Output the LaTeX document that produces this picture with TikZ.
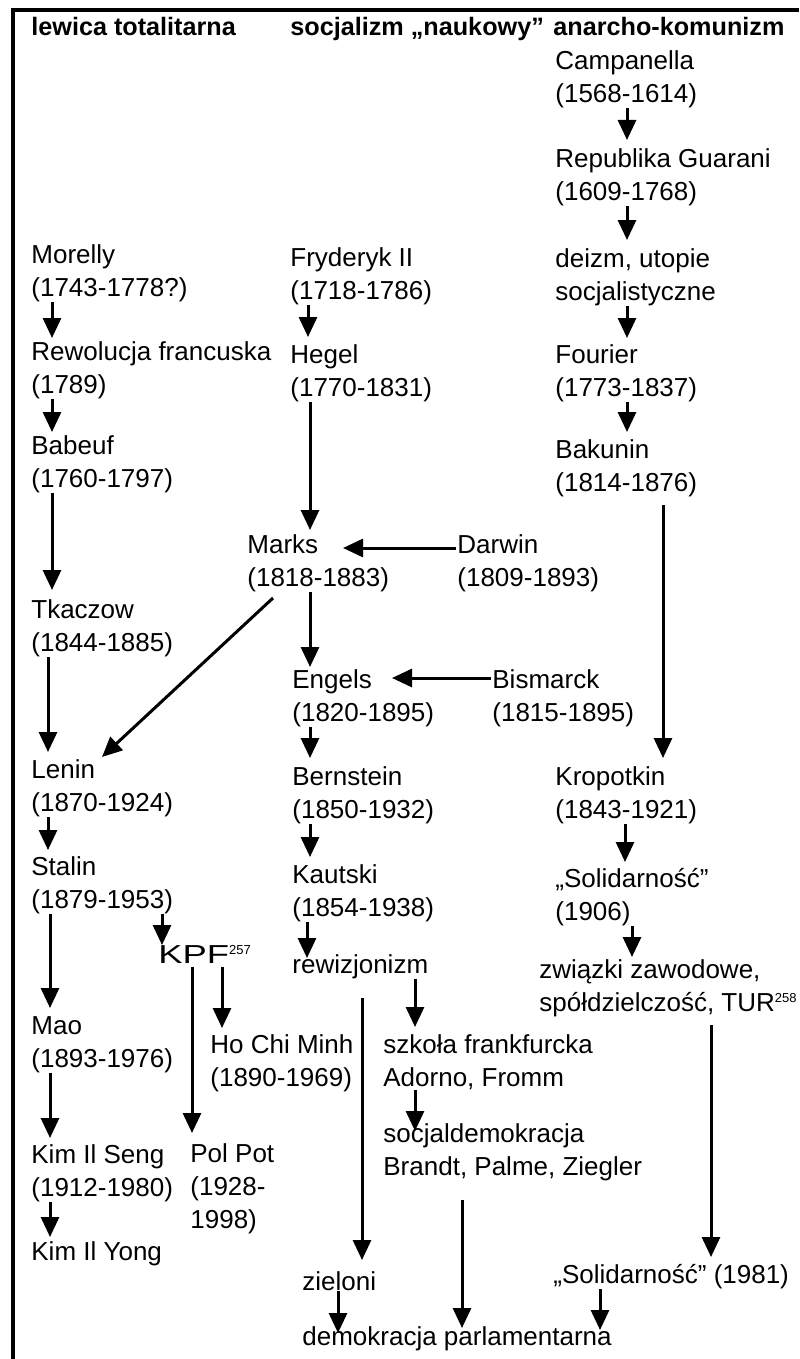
\documentclass[tikz,border=0pt]{standalone}
\usepackage{fontspec}
\setmainfont{Liberation Sans}
\usepackage{graphicx}
\usetikzlibrary{arrows.meta}
\tikzset{
  lbl/.style={anchor=north west, inner sep=0pt, align=left, font=\fontsize{13pt}{16.5pt}\selectfont},
  hdr/.style={lbl, font=\fontsize{12.6pt}{16.5pt}\selectfont\bfseries},
  arr/.style={-{Triangle[width=9pt,length=10pt]}, line width=1.5pt, shorten >=2.5pt},
}
\newcommand{\przypis}[1]{\textsuperscript{\fontsize{6.5pt}{7pt}\selectfont #1}}
\newcommand{\kpf}{\scalebox{1.4}[1]{KPF}\przypis{257}}

\begin{document}
\begin{tikzpicture}[x=0.5pt, y=-0.5pt]
    \useasboundingbox (0,0) rectangle (799,1359);
    \draw[line width=1.75pt] (799,10) -- (13,10) -- (13,1359);

    \node[hdr] (h1) at (31,17) {lewica totalitarna};
    \node[hdr] (h2) at (290,17) {socjalizm „naukowy”};
    \node[hdr] (h3) at (553,17) {anarcho-komunizm};

    % anarcho-komunizm
    \node[lbl] (camp) at (555,50) {Campanella\\(1568-1614)};
    \node[lbl] (rep) at (555,148) {Republika Guarani\\(1609-1768)};
    \node[lbl] (deizm) at (555,248) {deizm, utopie\\socjalistyczne};
    \node[lbl] (fourier) at (555,344) {Fourier\\(1773-1837)};
    \node[lbl] (bakunin) at (555,439) {Bakunin\\(1814-1876)};
    \node[lbl] (kropotkin) at (555,766) {Kropotkin\\(1843-1921)};
    \node[lbl] (sol1906) at (555,868) {„Solidarność”\\(1906)};
    \node[lbl] (zwiazki) at (539,959) {związki zawodowe,\\spółdzielczość, TUR\przypis{258}};
    \node[lbl] (sol1981) at (553,1264) {„Solidarność” (1981)};

    % lewica totalitarna
    \node[lbl] (morelly) at (31,244) {Morelly\\(1743-1778?)};
    \node[lbl] (rewolucja) at (31,341) {Rewolucja francuska\\(1789)};
    \node[lbl] (babeuf) at (31,435) {Babeuf\\(1760-1797)};
    \node[lbl] (tkaczow) at (31,599) {Tkaczow\\(1844-1885)};
    \node[lbl] (lenin) at (31,759) {Lenin\\(1870-1924)};
    \node[lbl] (stalin) at (31,856) {Stalin\\(1879-1953)};
    \node[lbl] (mao) at (31,1016) {Mao\\(1893-1976)};
    \node[lbl] (kimseng) at (31,1144) {Kim Il Seng\\(1912-1980)};
    \node[lbl] (kimyong) at (31,1241) {Kim Il Yong};
    \node[lbl] (kpf) at (158,945) {\kpf};
    \node[lbl] (hochiminh) at (210,1034) {Ho Chi Minh\\(1890-1969)};
    \node[lbl] (polpot) at (190,1143) {Pol Pot\\(1928-\\1998)};

    % socjalizm naukowy
    \node[lbl] (fryderyk) at (290,247) {Fryderyk II\\(1718-1786)};
    \node[lbl] (hegel) at (290,344) {Hegel\\(1770-1831)};
    \node[lbl] (marks) at (247,534) {Marks\\(1818-1883)};
    \node[lbl] (darwin) at (457,534) {Darwin\\(1809-1893)};
    \node[lbl] (engels) at (292,669) {Engels\\(1820-1895)};
    \node[lbl] (bismarck) at (492,669) {Bismarck\\(1815-1895)};
    \node[lbl] (bernstein) at (292,766) {Bernstein\\(1850-1932)};
    \node[lbl] (kautski) at (292,864) {Kautski\\(1854-1938)};
    \node[lbl] (rewizjonizm) at (292,954) {rewizjonizm};
    \node[lbl] (szkola) at (383,1034) {szkoła frankfurcka\\Adorno, Fromm};
    \node[lbl] (socjaldem) at (383,1123) {socjaldemokracja\\Brandt, Palme, Ziegler};
    \node[lbl] (zieloni) at (302,1271) {zieloni};
    \node[lbl] (demokracja) at (302,1326) {demokracja parlamentarna};

    % strzalki pionowe: skad/dokad/x/odstep u gory/odstep u dolu
    \foreach \a/\b/\x/\s/\e in {camp/rep/627/0/4, rep/deizm/627/0/4, deizm/fourier/627/0/3,
        fourier/bakunin/627/0/3.5, bakunin/kropotkin/663/4/4, kropotkin/sol1906/625/0/3,
        sol1906/zwiazki/632/0/1, zwiazki/sol1981/711/4/3.5, sol1981/demokracja/600/0/-2,
        morelly/rewolucja/52/0/1.5, rewolucja/babeuf/52/0/1.5, babeuf/tkaczow/52/0/4.5,
        tkaczow/lenin/48/0/3.5, lenin/stalin/48/0/3, stalin/mao/50/0/4, mao/kimseng/50/0/3,
        kimseng/kimyong/50/0/2, stalin/kpf/162/0/0, kpf/hochiminh/222/1.5/3, kpf/polpot/192/1.5/5,
        fryderyk/hegel/308/0/3.5, hegel/marks/310/0/2, marks/engels/310/0/1,
        engels/bernstein/310/0/4, bernstein/kautski/310/0/3.5, kautski/rewizjonizm/307/0/-2,
        rewizjonizm/zieloni/362/9.5/5.5, rewizjonizm/szkola/415/0/3.5, szkola/socjaldem/415/0/-4,
        socjaldem/demokracja/462/9.5/-1, zieloni/demokracja/338/0/-3.5}
      \draw[arr, shorten <=\s pt, shorten >=\e pt] (\a.south -| \x,0) -- (\b.north -| \x,0);

    \draw[arr, shorten >=0pt] ([shift={(-1,14)}]darwin.north west) -- ([shift={(96,14)}]marks.north west);
    \draw[arr, shorten >=0pt] ([shift={(-1,9)}]bismarck.north west) -- ([shift={(100,9)}]engels.north west);
    \draw[arr, shorten >=0pt] ([shift={(26,64)}]marks.north west) -- ([shift={(71,-2)}]lenin.north west);
\end{tikzpicture}
\end{document}
